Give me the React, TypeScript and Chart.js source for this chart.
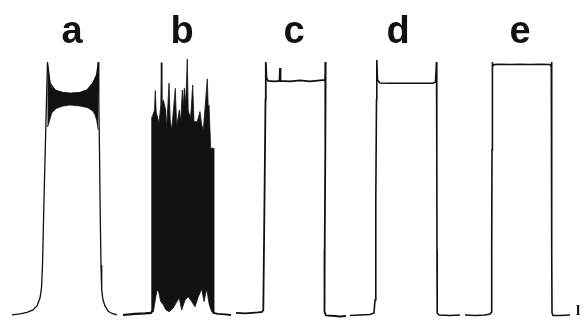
import React, { useEffect, useRef, useState } from "react";
import { Chart, registerables } from "chart.js";

Chart.register(...registerables);

// ---- Recorded traces (time in arbitrary units, amplitude in % of full scale) ----
const traceATime = [12, 20, 27, 33, 37, 40, 41.5, 42.5, 44, 45.5, 46.5, 47.5, 50, 55, 63, 70, 80, 87, 93, 96.7, 98.3, 98.8, 99.5, 100.3, 101, 101.7, 103, 105, 108, 112, 117];
const traceAAmp = [0, 0.4, 1.0, 2.0, 3.6, 6.7, 10.7, 19.8, 45.5, 69.2, 85.0, 100, 91.7, 88.9, 87.9, 87.6, 87.9, 88.9, 91.7, 94.9, 100, 85.0, 65.2, 37.5, 19.8, 9.9, 5.9, 3.6, 1.6, 0.6, 0];

// oscillation envelope of trace a
const envATime = [47.3, 48.3, 50, 51.7, 55, 56.7, 63, 70, 80, 87, 90, 93, 95, 96.7, 97.7, 98.3];
const envAUpperAmp = [99, 96, 91.7, 90, 88.9, 88.5, 87.9, 87.6, 87.9, 88.9, 90, 91.7, 93.5, 94.9, 97, 100];
const envALowerAmp = [74.3, 75.1, 77.5, 79.8, 81.2, 81.7, 82.6, 83.0, 82.6, 82, 81.4, 80.5, 79.1, 77, 74.3, 73.1];

// trace b: baseline pieces and noisy envelope
const traceBLeftTime = [123, 135, 145, 151, 152.3, 152.4];
const traceBLeftAmp = [0, 0.4, 0.6, 0.8, 1.6, 78.4];
const traceBRightTime = [213.3, 213.5, 213.6, 218, 225, 231];
const traceBRightAmp = [65.9, 25.7, 0.8, 0.4, 0.2, 0];
const envBUpperTime = [152.3, 154.5, 155.3, 156.2, 159, 160.8, 161.3, 161.9, 163.3, 165.7, 166.7, 169, 170.2, 171.7, 175.3, 176.7, 179.3, 180.7, 182.3, 183.3, 184.3, 185.7, 187.3, 188.2, 189, 190.7, 192.7, 194, 197.3, 200, 201.7, 203.3, 207.3, 208.3, 209, 210.7, 213.3];
const envBUpperAmp = [78.4, 81.0, 88.7, 80.2, 75.8, 83.0, 99.7, 81.8, 85.0, 81.0, 73.9, 91.6, 77.1, 73.1, 89.6, 74.4, 81.0, 76.4, 88.9, 82.3, 89.6, 83.7, 101.2, 81.0, 79.7, 78.4, 90.9, 76.4, 76.4, 80.4, 75.1, 73.1, 93.3, 81.0, 83.0, 65.9, 65.9];
const envBLowerTime = [152.3, 153.3, 156.7, 158.3, 160.7, 163.3, 166, 169.3, 173.3, 176, 179.3, 181.7, 185, 188.3, 191.7, 195, 198.3, 201.7, 204, 206.7, 209.3, 211.7, 213.3];
const envBLowerAmp = [1.3, 1.3, 9.2, 9.9, 5.3, 4.0, 2.0, 1.3, 2.8, 4.7, 6.7, 2.0, 5.9, 7.2, 5.3, 3.3, 7.2, 10.3, 5.3, 10.3, 4.0, 1.3, 0.9];

const traceCTime = [236, 245, 252, 258, 262, 263.3, 264.5, 265.5, 265.8, 266.5, 268, 275, 279.5, 280, 280.5, 290, 300, 310, 320, 325, 325.7, 325.3, 324.7, 324.5, 326, 335, 340, 346];
const traceCAmp = [0.8, 0.6, 0.8, 1.0, 1.2, 2.0, 45.5, 85.0, 100, 93.7, 92.5, 92.3, 92.5, 97.6, 92.5, 92.3, 92.7, 92.3, 92.7, 92.9, 100, 65.2, 25.7, 1.2, -0.2, -0.4, -0.6, -0.4];

const traceDTime = [350, 360, 370, 374, 375, 375.8, 376.5, 376.8, 377.5, 380, 390, 410, 433, 435.5, 436.5, 436.8, 437, 437.2, 439, 450, 460];
const traceDAmp = [-0.2, 0, 0.2, 0.8, 5.9, 45.5, 85.0, 100.8, 92.9, 91.7, 91.6, 91.6, 91.6, 92.1, 100, 65.2, 25.7, 0.8, 0, -0.2, 0];

const traceETime = [465, 475, 485, 490, 491.5, 491.7, 492, 492.3, 492.5, 494, 500, 510, 520, 530, 540, 550, 551.3, 551.6, 551.7, 551.8, 552, 553, 560, 570];
const traceEAmp = [0, -0.2, 0, 0.4, 1.2, 25.7, 65.2, 100, 98.1, 99.0, 99.1, 99.0, 99.1, 99.0, 99.1, 99.0, 98.1, 100, 65.2, 25.7, 0.8, -0.2, -0.2, 0];

// ---- Labels ----
const pulseLabels = ["a", "b", "c", "d", "e"];
const pulseLabelTime = [72, 182, 294, 398, 520];
const pulseLabelAmp = 107.5;
const cornerMark = "l";
const cornerMarkTime = 578;
const cornerMarkAmp = 0;

function pts(t: number[], a: number[]) {
  return t.map((x, i) => ({ x, y: a[i] }));
}

function line(data: any[], w: number) {
  return {
    data,
    showLine: true,
    pointRadius: 0,
    borderColor: "#111",
    borderWidth: w,
    fill: false,
    tension: 0,
  };
}

function band(data: any[], fillToNext: boolean) {
  return {
    data,
    showLine: true,
    pointRadius: 0,
    borderColor: "#111",
    borderWidth: 0.8,
    backgroundColor: "#111",
    fill: fillToNext ? "+1" : false,
    tension: 0,
  };
}

function baseOptions(): any {
  return {
    animation: false,
    responsive: false,
    devicePixelRatio: 1,
    layout: { padding: 0 },
    plugins: { legend: { display: false }, tooltip: { enabled: false } },
    scales: {
      x: { type: "linear", min: 0, max: 584, display: false },
      y: { type: "linear", min: -3.17, max: 124.5, display: false },
    },
  };
}

type Pos = { text: string; left: number; top: number; size: number; family: string };

export default function App() {
  const bandRef = useRef<HTMLCanvasElement | null>(null);
  const traceRef = useRef<HTMLCanvasElement | null>(null);
  const [labels, setLabels] = useState<Pos[]>([]);
  useEffect(() => {
    document.body.style.margin = "0";
    document.body.style.background = "#fff";
    if (!bandRef.current || !traceRef.current) return;
    const bands = new Chart(bandRef.current, {
      type: "scatter",
      data: {
        datasets: [
          band(pts(envATime, envAUpperAmp), true) as any,
          band(pts(envATime, envALowerAmp), false) as any,
          band(pts(envBUpperTime, envBUpperAmp), true) as any,
          band(pts(envBLowerTime, envBLowerAmp), false) as any,
        ],
      },
      options: baseOptions(),
    });
    const traces = new Chart(traceRef.current, {
      type: "scatter",
      data: {
        datasets: [
          line(pts(traceATime, traceAAmp), 1.3) as any,
          line(pts(traceBLeftTime, traceBLeftAmp), 2.2) as any,
          line(pts(traceBRightTime, traceBRightAmp), 1.8) as any,
          line(pts(traceCTime, traceCAmp), 1.8) as any,
          line(pts(traceDTime, traceDAmp), 1.6) as any,
          line(pts(traceETime, traceEAmp), 1.6) as any,
        ],
      },
      options: baseOptions(),
    });
    const xs = traces.scales.x;
    const ys = traces.scales.y;
    const big = 38;
    const small = 15;
    const out: Pos[] = pulseLabels.map((l, i) => ({
      text: l,
      left: xs.getPixelForValue(pulseLabelTime[i]),
      top: ys.getPixelForValue(pulseLabelAmp) - 0.8465 * big,
      size: big,
      family: '"Liberation Sans", Arial, sans-serif',
    }));
    out.push({
      text: cornerMark,
      left: xs.getPixelForValue(cornerMarkTime),
      top: ys.getPixelForValue(cornerMarkAmp) - 0.83 * small,
      size: small,
      family: '"Liberation Serif", serif',
    });
    setLabels(out);
    return () => {
      bands.destroy();
      traces.destroy();
    };
  }, []);
  return (
    <div style={{ position: "relative", width: 584, height: 323 }}>
      <canvas ref={bandRef} width={584} height={323} style={{ display: "block", position: "absolute", left: 0, top: 0 }} />
      <canvas ref={traceRef} width={584} height={323} style={{ display: "block", position: "absolute", left: 0, top: 0 }} />
      {labels.map((p, i) => (
        <div
          key={i}
          style={{
            position: "absolute",
            left: p.left,
            top: p.top,
            transform: "translateX(-50%)",
            fontFamily: p.family,
            fontWeight: "bold",
            fontSize: p.size,
            lineHeight: 1,
            color: "#111",
            whiteSpace: "nowrap",
          }}
        >
          {p.text}
        </div>
      ))}
    </div>
  );
}
